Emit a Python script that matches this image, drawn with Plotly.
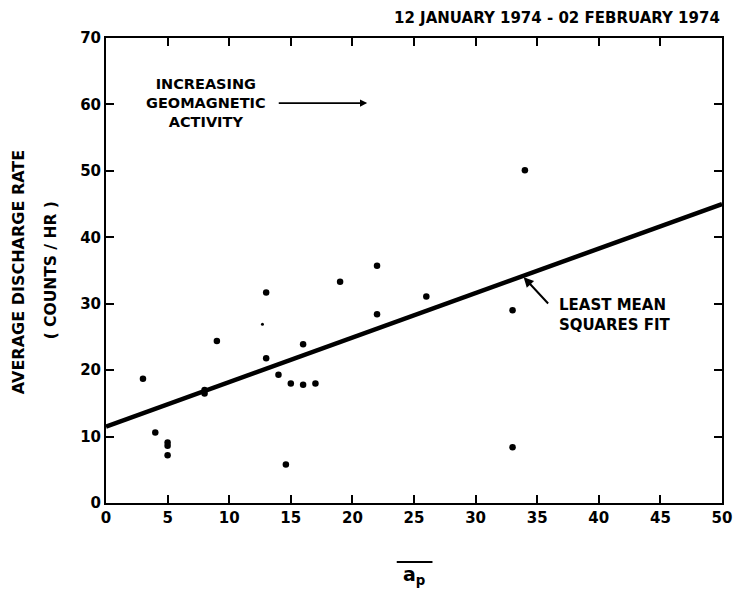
import plotly.graph_objects as go

# Daily geomagnetic index vs. average discharge rate
ap_index = [3, 4, 5, 5, 5, 8, 8, 9, 13, 13, 14, 14.6, 15, 16, 16, 17, 19, 22, 22, 26, 33, 33, 34]
discharge_rate = [18.7, 10.6, 9.1, 8.6, 7.2, 16.5, 17.0, 24.4, 31.7, 21.8, 19.3, 5.8, 18.0, 17.8,
                  23.9, 18.0, 33.3, 35.7, 28.4, 31.1, 29.0, 8.4, 50.1]

# Faint extra point
faint_ap = [12.7]
faint_rate = [26.9]

# Least mean squares fit endpoints
fit_ap = [0, 50]
fit_rate = [11.5, 45.0]

x_ticks = [0, 5, 10, 15, 20, 25, 30, 35, 40, 45, 50]
y_ticks = [0, 10, 20, 30, 40, 50, 60, 70]

FONT = "DejaVu Sans"

fig = go.Figure()
fig.add_trace(go.Scatter(x=fit_ap, y=fit_rate, mode="lines",
                         line=dict(color="black", width=4.5), hoverinfo="skip"))
fig.add_trace(go.Scatter(x=ap_index, y=discharge_rate, mode="markers",
                         marker=dict(color="black", size=6.5)))
fig.add_trace(go.Scatter(x=faint_ap, y=faint_rate, mode="markers",
                         marker=dict(color="black", size=3)))

axis_common = dict(showgrid=False, zeroline=False, showline=True, linecolor="black",
                   linewidth=2, mirror="ticks", ticks="inside", ticklen=8, tickwidth=2,
                   tickcolor="black", ticklabeloverflow="allow",
                   tickfont=dict(family=FONT, size=15, color="black"))

fig.update_xaxes(range=[0, 50], tickvals=x_ticks, ticktext=[f"<b>{v}</b>" for v in x_ticks],
                 **axis_common)
fig.update_yaxes(range=[0, 70], tickvals=y_ticks, ticktext=[f"<b>{v}</b>" for v in y_ticks],
                 **axis_common)

annotations = [
    dict(text="<b>12 JANUARY 1974 - 02 FEBRUARY 1974</b>", xref="paper", yref="paper",
         x=1.0, y=1.043, xanchor="right", yanchor="middle", showarrow=False,
         font=dict(family=FONT, size=15, color="black")),
    dict(text="<b>INCREASING<br>GEOMAGNETIC<br>ACTIVITY</b>", x=8.1, y=60.2,
         xanchor="center", yanchor="middle", showarrow=False, align="center",
         font=dict(family=FONT, size=14.5, color="black")),
    dict(text="", x=21.2, y=60.2, ax=13.9, ay=60.2, axref="x", ayref="y",
         showarrow=True, arrowhead=2, arrowsize=0.9, arrowwidth=1.6, arrowcolor="black"),
    dict(text="<b>LEAST MEAN<br>SQUARES FIT</b>", x=36.6, y=28.3, xanchor="left",
         yanchor="middle", showarrow=False, align="left",
         font=dict(family=FONT, size=15, color="black")),
    dict(text="", x=33.9, y=34.0, ax=36.0, ay=29.8, axref="x", ayref="y",
         showarrow=True, arrowhead=2, arrowsize=1, arrowwidth=2, arrowcolor="black"),
    dict(text="<b>AVERAGE DISCHARGE RATE</b>", xref="paper", yref="paper",
         x=-0.1406, y=0.497, xanchor="center", yanchor="middle", textangle=-90,
         showarrow=False, font=dict(family=FONT, size=16, color="black")),
    dict(text="<b>( COUNTS / HR )</b>", xref="paper", yref="paper",
         x=-0.0895, y=0.5, xanchor="center", yanchor="middle", textangle=-90,
         showarrow=False, font=dict(family=FONT, size=15.5, color="black")),
    dict(text="<b>a<sub>p</sub></b>", xref="paper", yref="paper",
         x=0.5, y=-0.155, xanchor="center", yanchor="middle", showarrow=False,
         font=dict(family=FONT, size=19, color="black")),
]

fig.update_layout(
    width=740, height=592,
    margin=dict(l=106, r=8, t=38, b=89),
    paper_bgcolor="white", plot_bgcolor="white",
    showlegend=False,
    annotations=annotations,
    shapes=[dict(type="line", xref="paper", yref="paper", x0=0.472, x1=0.53,
                 y0=-0.127, y1=-0.127, line=dict(color="black", width=2))],
)

fig.write_html("out.html")
